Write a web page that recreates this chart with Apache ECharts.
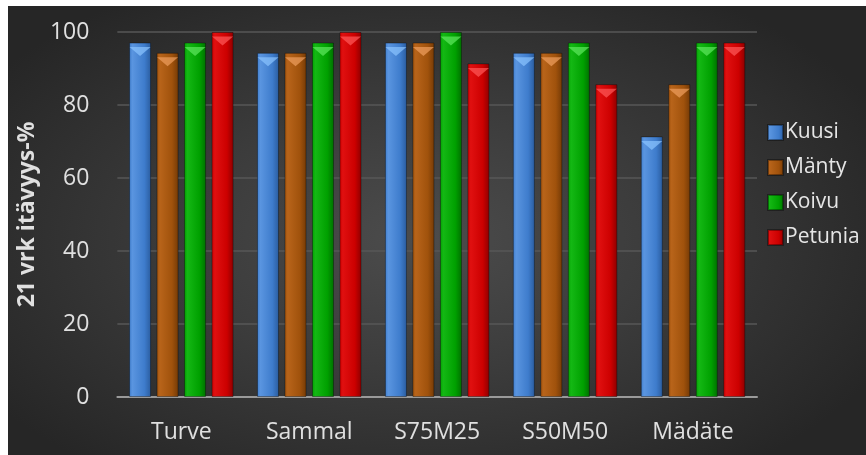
<!DOCTYPE html>
<html>
<head>
<meta charset="utf-8">
<script src="https://cdn.jsdelivr.net/npm/echarts@6/dist/echarts.min.js"></script>
<style>
html,body{margin:0;padding:0;background:#fff;width:866px;height:455px;overflow:hidden;}
#chart{position:absolute;left:8px;top:6px;width:858px;height:449px;
background:radial-gradient(ellipse 60% 65% at 48% 52%, #4c4c4c 0%, #3c3c3c 45%, #262626 100%);}
</style>
</head>
<body>
<div id="chart"></div>
<script>
const categories = ['Turve', 'Sammal', 'S75M25', 'S50M50', 'Mädäte'];
const seriesNames = ['Kuusi', 'Mänty', 'Koivu', 'Petunia'];
const kuusi = [97.1, 94.3, 97.1, 94.3, 71.4];
const manty = [94.3, 94.3, 97.1, 94.3, 85.7];
const koivu = [97.1, 97.1, 100, 97.1, 97.1];
const petunia = [100, 100, 91.4, 85.7, 97.1];
const yTicks = [0, 20, 40, 60, 80, 100];

const values = [kuusi, manty, koivu, petunia];
const colors = [
  ['#5a95e0', '#3e7ccc', '#2a5c9e'],
  ['#b8641a', '#a0520c', '#743a06'],
  ['#14b814', '#00a000', '#007000'],
  ['#e01010', '#cc0000', '#8c0000']
];
const tipColors = ['#8cc4ff', '#f0a060', '#60e860', '#ff5a5a'];

function grad(c) {
  return {type:'linear', x:0, y:0, x2:1, y2:0, colorStops:[
    {offset:0, color:c[1]}, {offset:0.15, color:c[0]}, {offset:0.7, color:c[1]}, {offset:1, color:c[2]}]};
}

const series = [];
values.forEach((v, i) => {
  series.push({
    name: seriesNames[i], type: 'bar', data: v, barWidth: 22, barGap: '25%', barCategoryGap: '18%',
    itemStyle: {color: grad(colors[i]), borderColor: 'rgba(0,0,0,0.35)', borderWidth: 1},
    z: 2
  });
});
values.forEach((v, i) => {
  series.push({
    name: seriesNames[i] + '_tip', type: 'pictorialBar', data: v, barWidth: 22, barGap: '25%', barCategoryGap: '18%',
    symbol: 'triangle', symbolRotate: 180, symbolSize: [21, 9], symbolPosition: 'end', symbolOffset: [0, '50%'],
    itemStyle: {color: tipColors[i], opacity: 0.7}, z: 3, silent: true
  });
});

const chart = echarts.init(document.getElementById('chart'), null, {renderer: 'canvas'});
chart.setOption({
  backgroundColor: 'transparent',
  animation: false,
  textStyle: {fontFamily: 'Open Sans'},
  grid: {left: 106, right: 109, top: 26, bottom: 58, containLabel: false},
  legend: {
    data: seriesNames, orient: 'vertical', left: 754, top: 111,
    itemWidth: 15, itemHeight: 15, itemGap: 14, icon: 'rect',
    textStyle: {color: '#e6e6e6', fontSize: 21, fontFamily: 'Open Sans', padding: [0,0,0,-3]}
  },
  xAxis: {
    type: 'category', data: categories,
    axisLine: {lineStyle: {color: '#9a9a9a', width: 2}},
    axisTick: {show: false},
    axisLabel: {color: '#e0e0e0', fontSize: 23, margin: 24}
  },
  yAxis: {
    type: 'value', min: 0, max: 100, interval: 20,
    name: '21 vrk itävyys-%', nameLocation: 'middle', nameGap: 69,
    nameTextStyle: {color: '#e0e0e0', fontSize: 23, fontWeight: 'bold'},
    axisLine: {show: false}, axisTick: {show: false},
    axisLabel: {color: '#e0e0e0', fontSize: 23, margin: 28,
      formatter: v => yTicks.includes(v) ? String(v) : ''},
    splitLine: {lineStyle: {color: '#575757', width: 1.5}}
  },
  series: series
});
</script>
</body>
</html>
